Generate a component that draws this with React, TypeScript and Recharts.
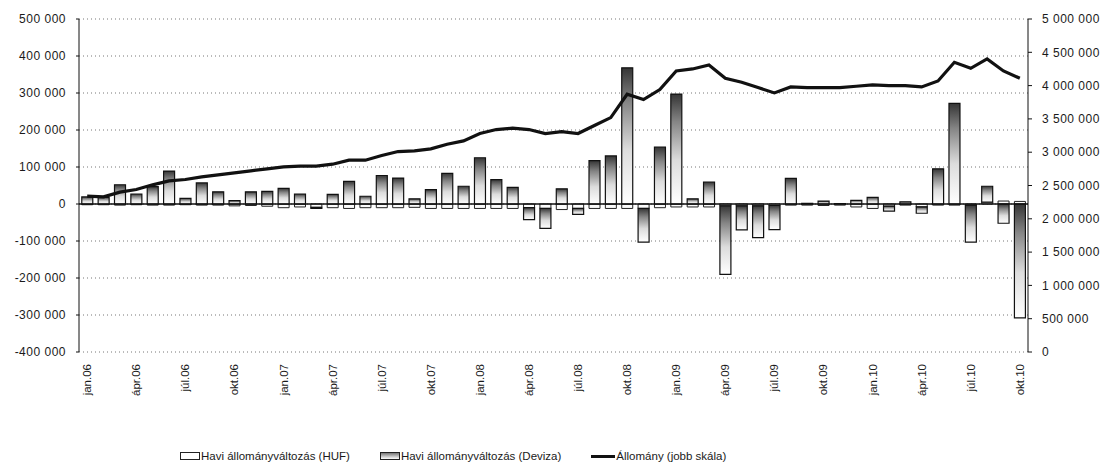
import { ComposedChart, Bar, Line, XAxis, YAxis, CartesianGrid, ReferenceLine, Legend } from 'recharts';

const months = [
  'jan.06', 'febr.06', 'márc.06', 'ápr.06', 'máj.06', 'jún.06', 'júl.06', 'aug.06', 'szept.06', 'okt.06', 'nov.06', 'dec.06',
  'jan.07', 'febr.07', 'márc.07', 'ápr.07', 'máj.07', 'jún.07', 'júl.07', 'aug.07', 'szept.07', 'okt.07', 'nov.07', 'dec.07',
  'jan.08', 'febr.08', 'márc.08', 'ápr.08', 'máj.08', 'jún.08', 'júl.08', 'aug.08', 'szept.08', 'okt.08', 'nov.08', 'dec.08',
  'jan.09', 'febr.09', 'márc.09', 'ápr.09', 'máj.09', 'jún.09', 'júl.09', 'aug.09', 'szept.09', 'okt.09', 'nov.09', 'dec.09',
  'jan.10', 'febr.10', 'márc.10', 'ápr.10', 'máj.10', 'jún.10', 'júl.10', 'aug.10', 'szept.10', 'okt.10',
];

// havi állományváltozás, forint
const hufChange = [
  -2000, -2000, -3000, -2000, -3000, -3000, -2000, -3000, -3000, -5000, -4000, -6000,
  -10000, -8000, -9000, -10000, -12000, -10000, -10000, -10000, -9000, -12000, -12000, -12000,
  -12000, -12000, -12000, -10000, -12000, -15000, -12000, -12000, -12000, -12000, -12000, -10000,
  -8000, -8000, -8000, -5000, -5000, -5000, -4000, -3000, -3000, -4000, -3000, -8000,
  -12000, -6000, -3000, -8000, -3000, -3000, -3000, 5000, 8000, 7000,
];

// havi állományváltozás, deviza
const fxChange = [
  19000, 18000, 52000, 27000, 47000, 89000, 15000, 57000, 33000, 9000, 33000, 34000,
  42000, 27000, -3000, 26000, 61000, 21000, 77000, 70000, 14000, 39000, 83000, 48000,
  125000, 66000, 45000, -32000, -54000, 41000, -16000, 117000, 130000, 368000, -91000, 154000,
  297000, 14000, 59000, -185000, -65000, -86000, -65000, 69000, 2000, 8000, 1000, 10000,
  18000, -13000, 6000, -17000, 95000, 272000, -100000, 43000, -52000, -308000,
];

// állomány (jobb skála)
const stock = [
  2340000, 2330000, 2400000, 2440000, 2510000, 2570000, 2590000, 2630000, 2660000, 2690000, 2720000, 2750000,
  2780000, 2790000, 2790000, 2820000, 2880000, 2880000, 2950000, 3010000, 3020000, 3050000, 3120000, 3170000,
  3280000, 3340000, 3360000, 3340000, 3280000, 3310000, 3280000, 3400000, 3520000, 3870000, 3790000, 3940000,
  4220000, 4250000, 4310000, 4110000, 4050000, 3970000, 3890000, 3980000, 3970000, 3970000, 3970000, 3990000,
  4010000, 4000000, 4000000, 3980000, 4070000, 4350000, 4260000, 4400000, 4220000, 4110000,
];

const leftTicks = [-400000, -300000, -200000, -100000, 0, 100000, 200000, 300000, 400000, 500000];
const rightTicks = [0, 500000, 1000000, 1500000, 2000000, 2500000, 3000000, 3500000, 4000000, 4500000, 5000000];

const seriesNames = ['Havi állományváltozás (HUF)', 'Havi állományváltozás (Deviza)', 'Állomány (jobb skála)'];

const data = months.map((month, i) => ({
  month,
  huf: hufChange[i],
  fx: fxChange[i],
  stock: stock[i],
}));

const fmt = (v: number) => String(v).replace(/\B(?=(\d{3})+(?!\d))/g, ' ');

const axisText = { fontSize: 12, fill: '#1a1a1a', letterSpacing: 0.5 };

function MonthTick(props: any) {
  const { x, y, payload } = props;
  const ty = y + 4;
  return (
    <text
      x={x}
      y={ty}
      transform={`rotate(-90 ${x} ${ty})`}
      textAnchor="end"
      dy="0.35em"
      fontSize={11.5}
      fill="#1a1a1a"
    >
      {payload.value}
    </text>
  );
}

function LegendBox() {
  return (
    <div style={{ display: 'flex', justifyContent: 'flex-start', gap: 30, fontSize: 11.5, color: '#1a1a1a', paddingLeft: 180 }}>
      <span style={{ display: 'flex', alignItems: 'center' }}>
        <span style={{ width: 18, height: 6, border: '1px solid #222', background: '#fff', marginRight: 1 }} />
        {seriesNames[0]}
      </span>
      <span style={{ display: 'flex', alignItems: 'center' }}>
        <span style={{ width: 18, height: 6, border: '1px solid #222', background: 'linear-gradient(#777, #fff)', marginRight: 1 }} />
        {seriesNames[1]}
      </span>
      <span style={{ display: 'flex', alignItems: 'center' }}>
        <span style={{ width: 24, height: 3, background: '#111', marginRight: 1 }} />
        {seriesNames[2]}
      </span>
    </div>
  );
}

export default function App() {
  return (
    <div style={{ position: 'absolute', left: 0, top: 0, background: '#fff', fontFamily: '"Liberation Sans", Arial, sans-serif' }}>
      <ComposedChart
        width={1115}
        height={472}
        data={data}
        stackOffset="sign"
        barCategoryGap="17%"
        margin={{ top: 19, right: 0, bottom: 0, left: 0 }}
      >
        <defs>
          <linearGradient id="fxFill" x1="0" y1="0" x2="0" y2="1">
            <stop offset="0%" stopColor="#353535" />
            <stop offset="25%" stopColor="#858585" />
            <stop offset="60%" stopColor="#dcdcdc" />
            <stop offset="100%" stopColor="#ffffff" />
          </linearGradient>
        </defs>
        <CartesianGrid yAxisId="left" vertical={false} stroke="#777" strokeDasharray="1 3" />
        <XAxis
          dataKey="month"
          interval={2}
          tick={<MonthTick />}
          axisLine={false}
          tickLine={false}
          height={98}
        />
        <YAxis
          yAxisId="left"
          domain={[-400000, 500000]}
          ticks={leftTicks}
          tickFormatter={fmt}
          width={79}
          tick={axisText}
          tickSize={3}
          tickMargin={10}
          stroke="#111"
          allowDataOverflow
        />
        <YAxis
          yAxisId="right"
          orientation="right"
          domain={[0, 5000000]}
          ticks={rightTicks}
          tickFormatter={fmt}
          width={87}
          tick={axisText}
          tickSize={4}
          tickMargin={10}
          stroke="#111"
        />
        <Bar yAxisId="left" dataKey="huf" stackId="m" fill="#fbfbfb" stroke="#222" strokeWidth={1} isAnimationActive={false} />
        <Bar yAxisId="left" dataKey="fx" stackId="m" fill="url(#fxFill)" stroke="#111" strokeWidth={1.2} isAnimationActive={false} />
        <ReferenceLine yAxisId="left" y={0} stroke="#111" strokeWidth={1.5} />
        <Line
          yAxisId="right"
          dataKey="stock"
          type="linear"
          stroke="#111"
          strokeWidth={3.2}
          dot={false}
          isAnimationActive={false}
        />
        <Legend verticalAlign="bottom" height={22} content={() => <LegendBox />} />
      </ComposedChart>
    </div>
  );
}
